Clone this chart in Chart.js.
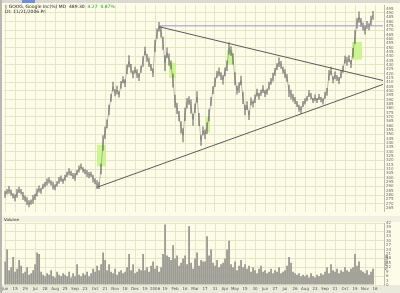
<!DOCTYPE html>
<html><head><meta charset="utf-8">
<script src="https://cdn.jsdelivr.net/npm/chart.js@4/dist/chart.umd.min.js"></script>
<style>
html,body{margin:0;padding:0;width:400px;height:293px;overflow:hidden;background:#fcfce9;font-family:"DejaVu Sans",sans-serif}
#wrap{position:relative;width:400px;height:293px}
canvas{position:absolute;left:0}
#pc{top:0}
#vc{top:216px}
.t{position:absolute;white-space:nowrap;font-size:4.5px;line-height:5px;color:#222}
#tool{position:absolute;left:0;top:0;width:400px;height:3px;background:#d9d9d2}
#toolsel{position:absolute;left:22px;top:0;width:13px;height:3px;background:#6f8fd8}
#lbar{position:absolute;left:0;top:0;width:2px;height:293px;background:#b8b8b0}
#xrow{position:absolute;left:0;top:285px;width:400px;height:8px;background:#e9e9dc}
#vband{position:absolute;left:0;top:216px;width:400px;height:6px;background:#f1f1e2}
.g{color:#1a9a1a}
</style></head>
<body><div id="wrap">
<div id="xrow"></div>
<div id="vband"></div>
<canvas id="pc" width="400" height="216"></canvas>
<canvas id="vc" width="400" height="77"></canvas>
<div id="tool"></div><div id="toolsel"></div>
<div id="lbar"></div>
<div class="t" style="left:5px;top:4px">◊ GOOG, Google Inc(%) MD &nbsp;489.30 &nbsp;<span class="g">4.27 &nbsp;0.87%</span></div>
<div class="t" style="left:5px;top:9px">Dt: 11/21/2006 Pr:</div>
<div class="t" style="left:4px;top:217px;font-size:4px">Volume</div>
<div class="t" style="left:389px;top:255px;font-size:4px;transform:rotate(90deg);transform-origin:left top;color:#555">Millions</div>
</div>
<script>
// ---- data ----
const price = [
281,284,286,283,279,277,282,286,284,279,
276,273,270,272,275,278,283,287,285,290,
292,295,297,294,291,289,293,297,299,296,
300,304,307,305,302,301,306,310,313,309,
307,305,303,304,299,296,292,291,310,340,
352,362,378,392,405,398,401,396,407,413,
409,425,434,426,419,424,420,416,425,434,
446,438,433,427,421,452,466,474,468,455,
432,444,436,430,412,388,380,371,358,349,
373,386,389,382,367,380,393,367,343,354,
350,357,372,388,401,410,419,422,417,413,
422,429,449,446,437,414,401,404,412,392,
378,383,372,388,385,391,398,394,398,402,
397,399,406,411,416,422,428,433,430,424,
420,415,400,396,392,389,385,380,378,385,
388,391,397,394,389,392,389,393,390,388,
395,399,418,423,413,418,415,412,419,425,
436,434,437,431,444,462,478,485,479,474,
470,476,474,481,487
];
// high-low span of each bar (price units)
const priceRange = [
8,6,9,7,6,8,10,7,6,9,
7,9,8,6,10,7,9,8,7,6,
6,8,7,6,9,7,6,8,7,6,
7,6,8,6,7,9,6,8,7,6,
6,8,7,6,9,7,10,8,12,18,
14,10,12,9,11,8,10,7,9,8,
9,11,14,10,9,8,10,9,8,12,
10,9,11,8,10,14,12,11,13,15,
18,12,14,10,16,15,13,12,14,16,
15,12,10,16,14,11,13,15,12,10,
11,13,14,10,9,11,8,10,9,11,
10,12,14,11,13,15,10,12,11,14,
12,10,11,9,8,10,9,8,7,9,
8,7,9,8,10,9,8,11,9,8,
10,9,14,11,9,8,7,8,9,7,
7,6,8,7,6,8,6,7,6,7,
8,9,12,10,8,9,7,8,9,8,
9,10,8,9,11,16,12,13,10,9,
10,9,8,11,10
];
const volume = [
16,24,10,12,19,9,11,17,13,8,
9,12,7,8,10,14,22,21,9,7,
6,8,7,10,6,5,9,7,6,8,
7,6,9,5,8,6,14,7,6,8,
7,9,6,8,11,9,13,10,14,22,
17,10,14,9,8,11,7,9,10,8,
9,12,21,10,14,8,9,11,10,21,
10,12,9,13,16,11,13,9,12,21,
41,20,19,17,27,18,20,13,15,18,
20,14,40,15,11,18,22,13,17,16,
16,33,20,24,15,13,17,12,14,15,
18,24,30,14,12,16,10,13,17,12,
14,11,13,9,12,10,8,11,13,9,
10,8,9,11,8,10,9,12,8,9,
10,13,19,15,9,8,7,8,6,7,
6,7,5,8,6,5,7,6,8,7,
9,12,8,14,10,9,11,8,10,9,
12,10,9,11,12,21,13,16,10,9,
8,10,7,9,11
];
// tick labels every 5 sessions (each session point = 2 trading days)
const xTickLabels = ['Jun','15','29','Jul','28','Aug','25','Sep','23','Oct','21','Nov','18','Dec','19','2006','19','Feb','16','Mar','17','31','Apr','May','15','30','Jun','27','Jul','26','Aug','23','Sep','21','Oct','19','Nov','16'];
const xTickEvery = 5;
const emptySessionsAfter = 5;
// trend lines: [sessionIndex, price]
const trendUpper = [[77, 474], [189, 412]];
const trendLower = [[46, 289], [189, 407.5]];
const resistance = [[77, 475], [189, 475]];
// gap boxes: [fromSession, toSession, lowPrice, highPrice]
const gapBoxes = [[46, 50.5, 313, 338], [82, 85.5, 415, 432.5], [100.5, 102.5, 352, 370], [111, 114, 430, 447], [173.5, 178.5, 436, 456.6]];
const priceMin = 261, priceMax = 499, priceStep = 5;
const volMax = 42, volStep = 3;

// ---- build ----
const nSessions = price.length + emptySessionsAfter;
const sessions = Array.from({length: nSessions}, (_, i) => i);
const pad = new Array(emptySessionsAfter).fill(null);
function sparse(pts){ const a = new Array(nSessions).fill(null); pts.forEach(([i,v]) => a[i] = v); return a; }
const hiLo = price.map((c, i) => [c - priceRange[i] / 2, c + priceRange[i] / 2]).concat(pad);

const GRID = '#e6e6c6';
const FONT = {family: 'DejaVu Sans', size: 4};
Chart.defaults.font.family = 'DejaVu Sans';

const boxPlugin = {
  id: 'gapBoxes',
  beforeDatasetsDraw(chart){
    const {ctx, scales:{x, y}} = chart;
    ctx.save();
    ctx.fillStyle = 'rgba(196,245,130,0.85)';
    gapBoxes.forEach(([a,b,lo,hi]) => {
      const x0 = x.getPixelForValue(a), x1 = x.getPixelForValue(b);
      const y0 = y.getPixelForValue(hi), y1 = y.getPixelForValue(lo);
      ctx.fillRect(x0, y0, x1 - x0, y1 - y0);
    });
    ctx.restore();
  }
};

const xGrid = {color: c => (c.index % xTickEvery === 0) ? GRID : 'rgba(0,0,0,0)', lineWidth: 1, drawTicks: false, offset: false};

new Chart(document.getElementById('pc'), {
  type: 'line',
  data: {labels: sessions, datasets: [
    {type: 'bar', data: hiLo, backgroundColor: '#5a5a5a', barPercentage: 0.5, categoryPercentage: 1, order: 2},
    {data: price.concat(pad), borderColor: '#7a7a7a', borderWidth: 0.5, pointRadius: 0, tension: 0, order: 3},
    {data: sparse(trendUpper), borderColor: '#5a5a5a', borderWidth: 1, pointRadius: 0, spanGaps: true, order: 1},
    {data: sparse(trendLower), borderColor: '#5a5a5a', borderWidth: 1, pointRadius: 0, spanGaps: true, order: 1},
    {data: sparse(resistance), borderColor: '#9d92d6', borderWidth: 1, pointRadius: 0, spanGaps: true, order: 1}
  ]},
  options: {
    responsive: false, animation: false, devicePixelRatio: 1,
    layout: {padding: {left: 4, top: 5, bottom: 4, right: 0}},
    plugins: {legend: {display: false}, tooltip: {enabled: false}},
    scales: {
      x: {type: 'category', offset: true, grid: xGrid, border: {display: false}, ticks: {display: false},
          afterFit: s => { s.height = 0; }},
      y: {position: 'right', min: priceMin, max: priceMax,
          ticks: {stepSize: priceStep, includeBounds: false, autoSkip: false, font: FONT, color: '#6b6b6b', padding: 2},
          grid: {color: c => (c.tick && c.tick.value % 10 === 0) ? GRID : 'rgba(0,0,0,0)', drawTicks: false},
          border: {display: true, color: '#bdbdae'},
          afterFit: s => { s.width = 16; }}
    }
  },
  plugins: [boxPlugin]
});

new Chart(document.getElementById('vc'), {
  type: 'bar',
  data: {labels: sessions, datasets: [
    {data: volume.concat(pad), backgroundColor: '#9a9a93', barPercentage: 0.9, categoryPercentage: 1}
  ]},
  options: {
    responsive: false, animation: false, devicePixelRatio: 1,
    layout: {padding: {left: 4, top: 7, bottom: 0, right: 0}},
    plugins: {legend: {display: false}, tooltip: {enabled: false}},
    scales: {
      x: {type: 'category', offset: true, grid: xGrid, border: {display: false},
          ticks: {autoSkip: false, maxRotation: 0, minRotation: 0, font: FONT, color: '#555', padding: 2,
                  callback: (v, i) => (i % xTickEvery === 0 && xTickLabels[i / xTickEvery] !== undefined) ? xTickLabels[i / xTickEvery] : ''},
          afterFit: s => { s.height = 8; }},
      y: {position: 'right', min: 0, max: volMax,
          ticks: {stepSize: volStep, includeBounds: false, autoSkip: false, font: FONT, color: '#6b6b6b', padding: 2},
          grid: {color: c => (c.tick && c.tick.value % 6 === 0) ? GRID : 'rgba(0,0,0,0)', drawTicks: false},
          border: {display: true, color: '#bdbdae'},
          afterFit: s => { s.width = 16; }}
    }
  }
});
</script>
</body></html>
